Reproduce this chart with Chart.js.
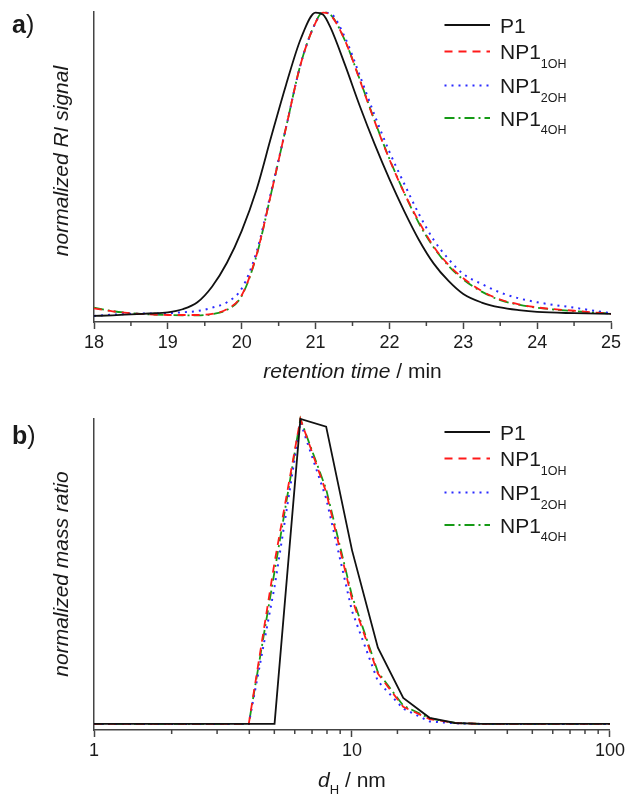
<!DOCTYPE html>
<html>
<head>
<meta charset="utf-8">
<script src="https://cdn.jsdelivr.net/npm/chart.js@4.4.1/dist/chart.umd.min.js"></script>
<style>
  html, body { margin: 0; padding: 0; background: #fff; }
  body { width: 628px; height: 796px; overflow: hidden; }
  canvas { display: block; }
</style>
</head>
<body>
<canvas id="gpc" width="628" height="400"></canvas>
<canvas id="dls" width="628" height="396"></canvas>
<script>
// ---- a) normalized RI signal vs retention time (min)
const retentionTime = [18, 18.25, 18.5, 18.75, 19, 19.2, 19.4, 19.6, 19.8, 20, 20.2, 20.4, 20.6, 20.8,
  21, 21.1, 21.2, 21.4, 21.6, 21.8, 22, 22.2, 22.4, 22.6, 22.8, 23, 23.25, 23.5, 23.75, 24, 24.5, 25];
const riP1 = [0.000, 0.002, 0.005, 0.008, 0.012, 0.022, 0.045, 0.097, 0.175, 0.280, 0.415, 0.590, 0.760, 0.912,
  0.998, 0.992, 0.950, 0.825, 0.690, 0.565, 0.450, 0.345, 0.250, 0.172, 0.115, 0.072, 0.044, 0.028, 0.019, 0.013, 0.009, 0.007];
const riNP1OH = [0.025, 0.015, 0.009, 0.005, 0.003, 0.003, 0.003, 0.007, 0.022, 0.068, 0.200, 0.405, 0.620, 0.830,
  0.965, 0.998, 0.990, 0.905, 0.775, 0.640, 0.515, 0.405, 0.310, 0.228, 0.168, 0.124, 0.082, 0.054, 0.038, 0.028, 0.017, 0.007];
const riNP2OH = [0.000, 0.004, 0.007, 0.008, 0.009, 0.012, 0.016, 0.027, 0.045, 0.090, 0.210, 0.410, 0.620, 0.830,
  0.965, 0.998, 0.995, 0.915, 0.790, 0.660, 0.540, 0.435, 0.335, 0.250, 0.187, 0.138, 0.105, 0.077, 0.058, 0.045, 0.027, 0.009];
const riNP4OH = [0.027, 0.016, 0.009, 0.005, 0.003, 0.002, 0.002, 0.006, 0.020, 0.066, 0.198, 0.405, 0.620, 0.830,
  0.966, 0.999, 0.992, 0.905, 0.777, 0.642, 0.517, 0.405, 0.305, 0.225, 0.165, 0.120, 0.080, 0.052, 0.037, 0.027, 0.016, 0.008];

// ---- b) normalized mass ratio vs hydrodynamic diameter (nm)
const diameter = [1, 1.26, 1.58, 2, 2.51, 3.16, 3.98, 5.01, 6.31, 7.94, 10, 12.6, 15.8, 20, 25.1, 31.6, 39.8, 50.1, 63.1, 79.4, 100];
const massP1 = [0, 0, 0, 0, 0, 0, 0, 0, 1.0, 0.975, 0.57, 0.25, 0.085, 0.02, 0.003, 0, 0, 0, 0, 0, 0];
const massNP1OH = [0, 0, 0, 0, 0, 0, 0, 0.53, 1.0, 0.76, 0.41, 0.165, 0.056, 0.016, 0.003, 0, 0, 0, 0, 0, 0];
const massNP2OH = [0, 0, 0, 0, 0, 0, 0, 0.45, 0.99, 0.74, 0.37, 0.14, 0.05, 0.008, 0.002, 0, 0, 0, 0, 0, 0];
const massNP4OH = [0, 0, 0, 0, 0, 0, 0, 0.50, 1.0, 0.77, 0.42, 0.17, 0.06, 0.018, 0.003, 0, 0, 0, 0, 0, 0];

const seriesNames = ["P1", "NP1", "NP1", "NP1"];
const seriesSubs = ["", "1OH", "2OH", "4OH"];

const FONT = "'Liberation Sans', Arial, sans-serif";
const AXIS = "#444";
const INK = "#1a1a1a";

const lineStyles = [
  { borderColor: "#111111", borderWidth: 1.8, borderDash: [] },
  { borderColor: "#ff1a1a", borderWidth: 1.8, borderDash: [8, 6] },
  { borderColor: "#2a2aff", borderWidth: 2, borderDash: [2, 5] },
  { borderColor: "#169a16", borderWidth: 1.8, borderDash: [10, 4, 2, 4] }
];

function majorTick(scale, v) {
  if (scale.type === "logarithmic") {
    const l = Math.log10(v);
    return Math.abs(l - Math.round(l)) < 1e-9;
  }
  return Math.abs(v - Math.round(v)) < 1e-9;
}

function drawRich(ctx, parts, x, y, align) {
  let w = 0;
  parts.forEach(p => { ctx.font = p.font; w += ctx.measureText(p.t).width; });
  let cx = align === "center" ? x - w / 2 : x;
  ctx.textAlign = "left";
  parts.forEach(p => {
    ctx.font = p.font;
    ctx.fillText(p.t, cx, y + (p.dy || 0));
    cx += ctx.measureText(p.t).width;
  });
}

// titles, panel letters and legend, per canvas
const decor = {
  gpc: {
    letter: "a", letterY: 33,
    xTitle: [{ t: "retention time", font: "italic 21px " + FONT }, { t: " / min", font: "21px " + FONT }],
    xTitleY: 378,
    yTitle: "normalized RI signal", yTitleY: 161
  },
  dls: {
    letter: "b", letterY: 44,
    xTitle: [{ t: "d", font: "italic 21px " + FONT }, { t: "H", font: "13px " + FONT, dy: 7 }, { t: " / nm", font: "21px " + FONT }],
    xTitleY: 387,
    yTitle: "normalized mass ratio", yTitleY: 174
  }
};
const legendRows = [13, 39.5, 73.5, 106];

const overlay = {
  id: "overlay",
  afterDraw(chart) {
    const d = decor[chart.canvas.id];
    const ctx = chart.ctx;
    const a = chart.chartArea;
    const xs = chart.scales.x;
    ctx.save();

    // short minor ticks
    ctx.strokeStyle = AXIS;
    ctx.lineWidth = 1.5;
    xs.ticks.forEach(t => {
      if (majorTick(xs, t.value)) return;
      const px = xs.getPixelForValue(t.value);
      ctx.beginPath();
      ctx.moveTo(px, a.bottom);
      ctx.lineTo(px, a.bottom + 4);
      ctx.stroke();
    });

    ctx.fillStyle = INK;
    ctx.textBaseline = "alphabetic";
    // panel letter
    drawRich(ctx, [{ t: d.letter, font: "bold 25px " + FONT }, { t: ")", font: "25px " + FONT }], 12, d.letterY, "left");
    // x title
    drawRich(ctx, d.xTitle, (a.left + a.right) / 2, d.xTitleY, "center");
    // y title
    ctx.save();
    ctx.translate(62, d.yTitleY);
    ctx.rotate(-Math.PI / 2);
    ctx.font = "italic 21px " + FONT;
    ctx.textAlign = "center";
    ctx.textBaseline = "middle";
    ctx.fillText(d.yTitle, 0, 0);
    ctx.restore();

    // legend
    chart.data.datasets.forEach((ds, i) => {
      const y = a.top + legendRows[i];
      ctx.save();
      ctx.strokeStyle = ds.borderColor;
      ctx.lineWidth = ds.borderWidth;
      ctx.setLineDash(ds.borderDash);
      ctx.beginPath();
      ctx.moveTo(444.5, y);
      ctx.lineTo(490, y);
      ctx.stroke();
      ctx.restore();
      ctx.fillStyle = INK;
      const parts = [{ t: seriesNames[i], font: "21px " + FONT }];
      if (seriesSubs[i]) parts.push({ t: seriesSubs[i], font: "12.5px " + FONT, dy: 8.7 });
      drawRich(ctx, parts, 500, y + 7.5, "left");
    });
    ctx.restore();
  }
};

function makeDatasets(xv, series, smooth) {
  return series.map((ys, i) => ({
    label: seriesNames[i] + seriesSubs[i],
    data: xv.map((x, k) => ({ x: x, y: ys[k] })),
    borderColor: lineStyles[i].borderColor,
    borderWidth: lineStyles[i].borderWidth,
    borderDash: lineStyles[i].borderDash,
    pointRadius: 0,
    fill: false,
    clip: false,
    tension: smooth ? 0.4 : 0,
    cubicInterpolationMode: smooth ? "monotone" : "default"
  }));
}

function makeOptions(xScale, top, xHeight) {
  return {
    responsive: false,
    animation: false,
    layout: { padding: { top: top, right: 17, left: 0, bottom: 0 } },
    plugins: { legend: { display: false }, tooltip: { enabled: false } },
    scales: {
      x: Object.assign({
        grid: {
          display: true,
          drawOnChartArea: false,
          drawTicks: true,
          tickLength: 7,
          tickWidth: 1.5,
          tickColor: c => (c.tick && majorTick(c.scale, c.tick.value)) ? AXIS : "rgba(0,0,0,0)"
        },
        border: { display: true, color: AXIS, width: 1.5 },
        afterFit: s => { s.height = xHeight; }
      }, xScale),
      y: {
        min: -0.02,
        max: 1.0,
        grid: { display: false },
        ticks: { display: false },
        border: { display: true, color: AXIS, width: 1.5 },
        afterFit: s => { s.width = 94; }
      }
    }
  };
}

const tickFont = { family: FONT, size: 18 };

new Chart(document.getElementById("gpc"), {
  type: "line",
  data: { datasets: makeDatasets(retentionTime, [riP1, riNP1OH, riNP2OH, riNP4OH], true) },
  options: makeOptions({
    type: "linear",
    min: 18,
    max: 25,
    ticks: {
      stepSize: 0.5,
      autoSkip: false,
      maxRotation: 0,
      padding: 3,
      color: INK,
      font: tickFont,
      callback: v => Number.isInteger(v) ? String(v) : ""
    }
  }, 12, 78),
  plugins: [overlay]
});

new Chart(document.getElementById("dls"), {
  type: "line",
  data: { datasets: makeDatasets(diameter, [massP1, massNP1OH, massNP2OH, massNP4OH], false) },
  options: makeOptions({
    type: "logarithmic",
    min: 1,
    max: 100,
    ticks: {
      autoSkip: false,
      maxRotation: 0,
      padding: 3,
      color: INK,
      font: tickFont,
      callback: function (v) {
        const l = Math.log10(v);
        return Math.abs(l - Math.round(l)) < 1e-9 ? String(Math.round(v)) : "";
      }
    }
  }, 19, 66),
  plugins: [overlay]
});
</script>
</body>
</html>
